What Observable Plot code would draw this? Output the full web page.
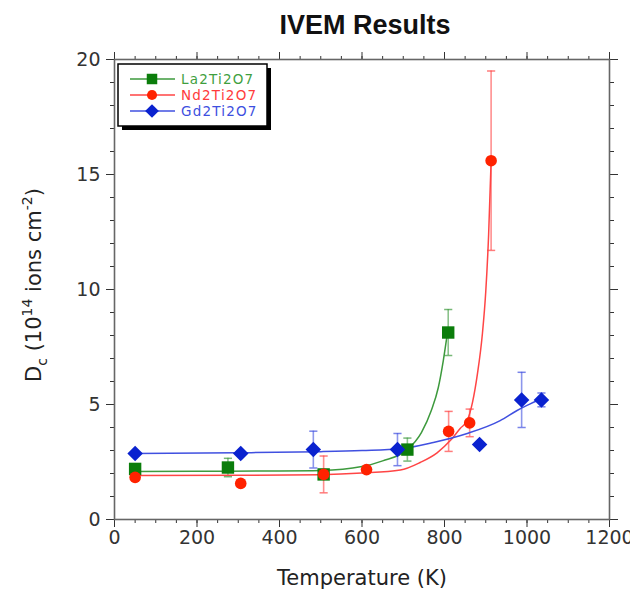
<!DOCTYPE html>
<html><head><meta charset="utf-8">
<script src="https://cdn.jsdelivr.net/npm/d3@7"></script>
<script src="https://cdn.jsdelivr.net/npm/@observablehq/plot@0.6"></script>
<style>
body{margin:0;background:#fff;}
#title{position:relative;height:45px;width:630px;}
#title span{position:absolute;left:365px;top:0;transform:translateX(-50%);font:bold 27px "Liberation Sans",Arial,sans-serif;line-height:51px;white-space:nowrap;color:#111}
</style></head><body>
<div id="title"><span>IVEM Results</span></div>
<div id="chart"></div>
<script>
// ---- data ----
const seriesNames = ["La2Ti2O7", "Nd2Ti2O7", "Gd2Ti2O7"];

// measured points (temperature K, Dc 1e14 ions/cm2, error)
const laT   = [50, 275, 507, 710, 809];
const laD   = [2.2, 2.26, 1.96, 3.04, 8.13];
const laErr = [0, 0.4, 0, 0.5, 1.0];

const ndT   = [50, 306, 507, 611, 810, 861, 913];
const ndD   = [1.83, 1.57, 1.96, 2.17, 3.83, 4.2, 15.6];
const ndErr = [0, 0, 0.8, 0, 0.87, 0.6, 3.9];

const gdT   = [50, 306, 482, 686, 885, 987, 1035];
const gdD   = [2.87, 2.87, 3.04, 3.04, 3.26, 5.2, 5.2];
const gdErr = [0, 0, 0.8, 0.7, 0, 1.2, 0.3];

// fitted curves
const laFitT = [50, 200, 400, 500, 600, 650, 710, 744, 768, 785, 797, 807];
const laFitD = [2.09, 2.1, 2.11, 2.13, 2.3, 2.55, 3.04, 3.78, 4.74, 5.74, 6.9, 8.1];

const ndFitT = [50, 300, 500, 600, 693, 741, 782, 814, 838, 855, 868, 880, 892, 900, 907, 913];
const ndFitD = [1.91, 1.92, 1.95, 2.02, 2.15, 2.48, 2.9, 3.43, 3.96, 4.3, 5.1, 6.35, 8.1, 9.9, 12.4, 15.6];

const gdFitT = [50, 300, 500, 600, 693, 773, 855, 935, 976, 1000, 1035];
const gdFitD = [2.87, 2.9, 2.95, 3.0, 3.08, 3.35, 3.74, 4.3, 4.74, 4.96, 5.25];

const xTicks = [0, 200, 400, 600, 800, 1000, 1200];
const yTicks = [0, 5, 10, 15, 20];

// ---- styles ----
const markerColors = ["#0b7d0b", "#ff2200", "#0a22cf"];
const lineColors   = ["#3d9a3d", "#ff4545", "#4050e0"];
const textColors   = ["#3f9f3f", "#ff3b3b", "#3d4fe0"];
const symbols      = ["square", "circle", "diamond2"];
const symbolR      = [7.0, 5.8, 7.0];

const pts = [[laT, laD, laErr], [ndT, ndD, ndErr], [gdT, gdD, gdErr]].map(([T, D, E], s) =>
  T.map((t, i) => ({s, T: t, D: D[i], err: E[i]})));
const fits = [[laFitT, laFitD], [ndFitT, ndFitD], [gdFitT, gdFitD]].map(([T, D], s) =>
  T.map((t, i) => ({s, T: t, D: D[i]})));

const cap = {draw(ctx, size) { const w = Math.sqrt(size); ctx.moveTo(-w, 0); ctx.lineTo(w, 0); }};

const marks = [];
// axes
marks.push(Plot.axisX({anchor: "bottom", ticks: d3.range(0, 1201, 50), tickSize: 4, tickFormat: () => "", label: null}));
marks.push(Plot.axisX({anchor: "bottom", ticks: xTicks, tickSize: 8, tickPadding: 3, tickFormat: d => String(d), label: null, fontSize: 19}));
marks.push(Plot.axisX({anchor: "top", ticks: d3.range(0, 1201, 50), tickSize: 4, tickFormat: () => "", label: null}));
marks.push(Plot.axisX({anchor: "top", ticks: xTicks, tickSize: 8, tickFormat: () => "", label: null}));
marks.push(Plot.axisY({anchor: "left", ticks: d3.range(0, 21, 1), tickSize: 4, tickFormat: () => "", label: null}));
marks.push(Plot.axisY({anchor: "left", ticks: yTicks, tickSize: 8, tickPadding: 6, tickFormat: d => String(d), label: null, fontSize: 19}));
marks.push(Plot.axisY({anchor: "right", ticks: d3.range(0, 21, 1), tickSize: 4, tickFormat: () => "", label: null}));
marks.push(Plot.axisY({anchor: "right", ticks: yTicks, tickSize: 8, tickFormat: () => "", label: null}));
marks.push(Plot.frame({stroke: "#666", strokeWidth: 1.6}));

for (let s = 0; s < 3; s++) {
  const eb = pts[s].filter(d => d.err > 0);
  marks.push(Plot.line(fits[s], {x: "T", y: "D", stroke: lineColors[s], strokeWidth: 1.5, curve: "monotone-x"}));
  marks.push(Plot.ruleX(eb, {x: "T", y1: d => d.D - d.err, y2: d => d.D + d.err, stroke: lineColors[s], strokeOpacity: 0.6, strokeWidth: 1.6}));
  marks.push(Plot.dot(eb, {x: "T", y: d => d.D - d.err, symbol: cap, r: 2.3, stroke: lineColors[s], strokeOpacity: 0.7, strokeWidth: 1.5, fill: "none"}));
  marks.push(Plot.dot(eb, {x: "T", y: d => d.D + d.err, symbol: cap, r: 2.3, stroke: lineColors[s], strokeOpacity: 0.7, strokeWidth: 1.5, fill: "none"}));
}
for (let s = 0; s < 3; s++) {
  marks.push(Plot.dot(pts[s], {x: "T", y: "D", symbol: symbols[s], r: symbolR[s], fill: markerColors[s], stroke: "none"}));
}
marks.push(Plot.text(["Temperature (K)"], {text: d => d, frameAnchor: "bottom", dy: 59, fontSize: 21, lineAnchor: "middle", fill: "#222"}));

const plot = Plot.plot({
  width: 630, height: 545,
  marginTop: 14, marginLeft: 114, marginRight: 21, marginBottom: 71,
  x: {domain: [0, 1200]},
  y: {domain: [0, 20]},
  style: {fontFamily: "'DejaVu Sans', sans-serif", fontSize: "19px", color: "#333", background: "white", overflow: "visible"},
  marks
});
document.getElementById("chart").appendChild(plot);

const svg = d3.select(plot);
// y-axis label with subscript / superscripts
const yl = svg.append("text")
  .attr("transform", "translate(41,240) rotate(-90)")
  .attr("text-anchor", "middle")
  .attr("font-family", "'DejaVu Sans', sans-serif")
  .attr("font-size", 21)
  .attr("fill", "#222");
yl.append("tspan").text("D");
yl.append("tspan").attr("dy", 6).attr("font-size", 14).text("c");
yl.append("tspan").attr("dy", -6).text(" (10");
yl.append("tspan").attr("dy", -9).attr("font-size", 14).text("14");
yl.append("tspan").attr("dy", 9).text(" ions cm");
yl.append("tspan").attr("dy", -9).attr("font-size", 14).text("-2");
yl.append("tspan").attr("dy", 9).text(")");

// legend
const lg = svg.append("g").attr("text-anchor", "start");
lg.append("rect").attr("x", 122).attr("y", 23).attr("width", 149).attr("height", 62).attr("fill", "#000");
lg.append("rect").attr("x", 118).attr("y", 19).attr("width", 149).attr("height", 62).attr("fill", "#fff").attr("stroke", "#000").attr("stroke-width", 1.5);
const legSym = [d3.symbolSquare, d3.symbolCircle, d3.symbolDiamond2];
const legSize = [110, 80, 120];
seriesNames.forEach((name, s) => {
  const y = 34 + s * 16;
  lg.append("line").attr("x1", 130).attr("x2", 175).attr("y1", y).attr("y2", y).attr("stroke", lineColors[s]).attr("stroke-width", 1.5);
  lg.append("path").attr("d", d3.symbol(legSym[s], legSize[s])()).attr("transform", `translate(152,${y})`).attr("fill", markerColors[s]);
  lg.append("text").attr("x", 181).attr("y", y).attr("dy", "0.36em").attr("text-anchor", "start")
    .attr("font-family", "'DejaVu Sans', sans-serif").attr("font-size", 13.5).attr("letter-spacing", "1.2px")
    .attr("fill", textColors[s]).text(name);
});
</script>
</body></html>
